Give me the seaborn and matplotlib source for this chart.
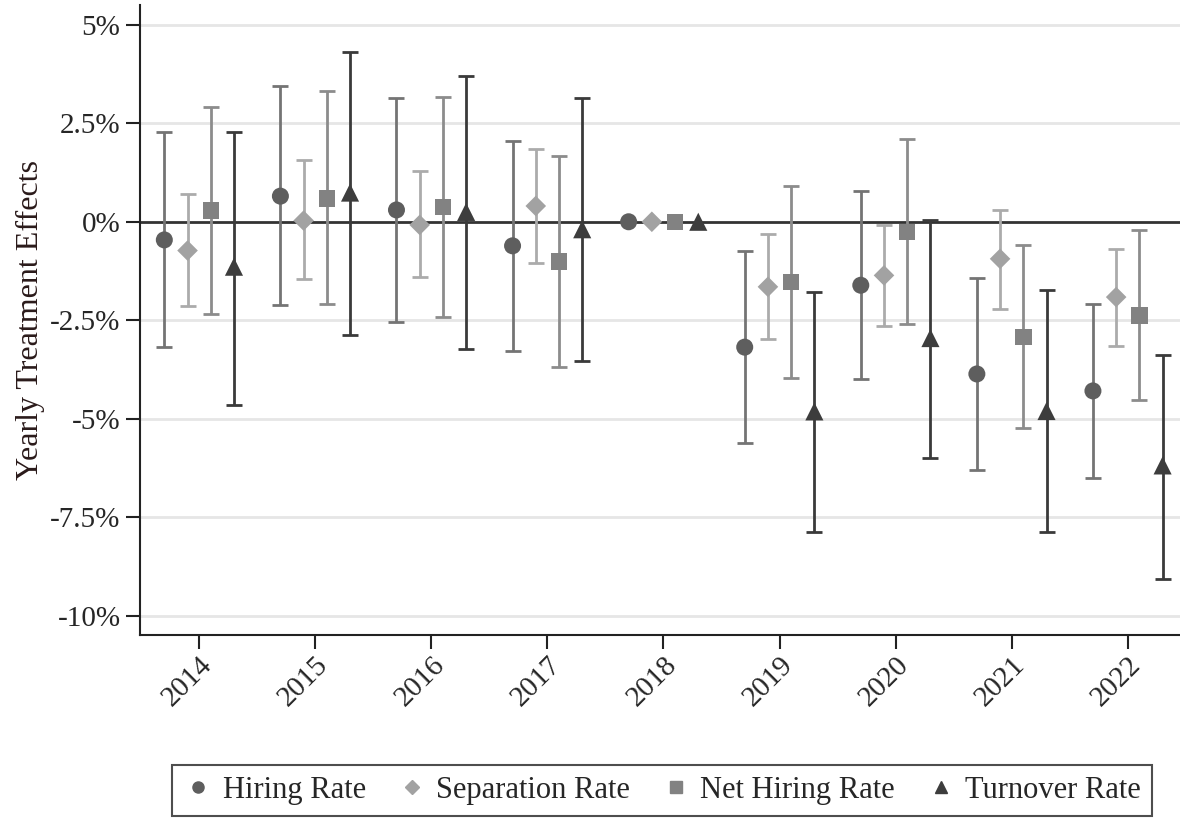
import numpy as np
import pandas as pd
import matplotlib
matplotlib.use("Agg")
import matplotlib.pyplot as plt
import seaborn as sns
from matplotlib.lines import Line2D

# ---- data (percent) -------------------------------------------------------
years = [2014, 2015, 2016, 2017, 2018, 2019, 2020, 2021, 2022]
series = ["Hiring Rate", "Separation Rate", "Net Hiring Rate", "Turnover Rate"]

hiring_est = [-0.46, 0.65, 0.30, -0.61, 0.0, -3.18, -1.61, -3.86, -4.29]
hiring_lo = [-3.17, -2.11, -2.54, -3.27, 0.0, -5.60, -3.99, -6.29, -6.50]
hiring_hi = [2.28, 3.45, 3.15, 2.06, 0.0, -0.75, 0.77, -1.43, -2.09]

separation_est = [-0.73, 0.03, -0.08, 0.40, 0.0, -1.65, -1.36, -0.94, -1.91]
separation_lo = [-2.13, -1.45, -1.41, -1.04, 0.0, -2.97, -2.64, -2.20, -3.15]
separation_hi = [0.70, 1.57, 1.28, 1.85, 0.0, -0.32, -0.07, 0.30, -0.69]

net_est = [0.29, 0.59, 0.38, -1.01, 0.0, -1.53, -0.26, -2.92, -2.38]
net_lo = [-2.33, -2.08, -2.41, -3.69, 0.0, -3.97, -2.59, -5.23, -4.53]
net_hi = [2.90, 3.32, 3.17, 1.68, 0.0, 0.91, 2.11, -0.60, -0.21]

turnover_est = [-1.14, 0.74, 0.25, -0.19, 0.0, -4.81, -2.95, -4.80, -6.18]
turnover_lo = [-4.64, -2.87, -3.22, -3.54, 0.0, -7.87, -5.99, -7.88, -9.05]
turnover_hi = [2.28, 4.31, 3.70, 3.13, 0.0, -1.78, 0.04, -1.73, -3.38]

# ---- style ----------------------------------------------------------------
OFFSETS = {"Hiring Rate": -0.3, "Separation Rate": -0.1,
           "Net Hiring Rate": 0.1, "Turnover Rate": 0.3}
MARKERS = {"Hiring Rate": "o", "Separation Rate": "D",
           "Net Hiring Rate": "s", "Turnover Rate": "^"}
MSIZE = {"Hiring Rate": 150, "Separation Rate": 110,
         "Net Hiring Rate": 140, "Turnover Rate": 170}
MCOLOR = {"Hiring Rate": "#5e5e5e", "Separation Rate": "#a2a2a2",
          "Net Hiring Rate": "#828282", "Turnover Rate": "#3d3d3d"}
LCOLOR = {"Hiring Rate": "#747474", "Separation Rate": "#ababab",
          "Net Hiring Rate": "#8c8c8c", "Turnover Rate": "#3a3a3a"}

rows = []
for name, est, lo, hi in [
    ("Hiring Rate", hiring_est, hiring_lo, hiring_hi),
    ("Separation Rate", separation_est, separation_lo, separation_hi),
    ("Net Hiring Rate", net_est, net_lo, net_hi),
    ("Turnover Rate", turnover_est, turnover_lo, turnover_hi),
]:
    for y, e, l, h in zip(years, est, lo, hi):
        rows.append({"Series": name, "Year": y, "Est": e, "Lo": l, "Hi": h})
df = pd.DataFrame(rows)
df["x"] = df["Year"] + df["Series"].map(OFFSETS)

sns.set_theme(style="white")
plt.rcParams["font.family"] = ["Liberation Serif", "DejaVu Serif"]

fig = plt.figure(figsize=(11.8, 8.19), dpi=100)
ax = fig.add_axes([0.1186, 0.2247, 0.8814, 0.7693])

for v in [5, 2.5, -2.5, -5, -7.5, -10]:
    ax.axhline(v, color="#e6e6e6", lw=2.0, zorder=0)
ax.axhline(0, color="#333333", lw=2.0, zorder=1)

for name in series:
    sub = df[df["Series"] == name]
    ci = sub[sub["Hi"] != sub["Lo"]]
    ax.errorbar(ci["x"], ci["Est"],
                yerr=[ci["Est"] - ci["Lo"], ci["Hi"] - ci["Est"]],
                fmt="none", ecolor=LCOLOR[name], elinewidth=2.0,
                capsize=5.5, capthick=2.0, zorder=2)

sns.scatterplot(data=df, x="x", y="Est", hue="Series", style="Series",
                palette=MCOLOR, markers=MARKERS, hue_order=series,
                size="Series", sizes=MSIZE, linewidth=0,
                legend=False, ax=ax, zorder=3)

ax.set_xlim(2013.49, 2022.45)
ax.set_ylim(-10.48, 5.5)
ax.set_xticks(years)
ax.set_xticklabels([str(y) for y in years], rotation=45, ha="right",
                   va="top", rotation_mode="anchor", fontsize=21)
ax.set_yticks([5, 2.5, 0, -2.5, -5, -7.5, -10])
ax.set_yticklabels(["5%", "2.5%", "0%", "-2.5%", "-5%", "-7.5%", "-10%"],
                   fontsize=21)
ax.tick_params(axis="both", which="both", direction="out", length=10,
               width=1.5, color="#222222", bottom=True, left=True, pad=4)
ax.tick_params(axis="x", pad=2)
ax.set_xlabel("")
ax.set_ylabel("Yearly Treatment Effects", fontsize=23, color="#2a1a1a",
              labelpad=4)

for side in ["top", "right"]:
    ax.spines[side].set_visible(False)
for side in ["left", "bottom"]:
    ax.spines[side].set_color("#222222")
    ax.spines[side].set_linewidth(1.5)

handles = [Line2D([], [], ls="none", marker=MARKERS[n], color=MCOLOR[n],
                  markersize=8 if n != "Separation Rate" else 7)
           for n in series]
leg = fig.legend(handles, series, loc="center", bbox_to_anchor=(0.561, 0.035),
                 ncol=4, fontsize=22, frameon=True, fancybox=False,
                 handletextpad=0.3, columnspacing=1.0, borderpad=0.35,
                 handlelength=1.0)
leg.get_frame().set_edgecolor("#222222")
leg.get_frame().set_linewidth(1.5)

fig.savefig("out.png", dpi=100)
